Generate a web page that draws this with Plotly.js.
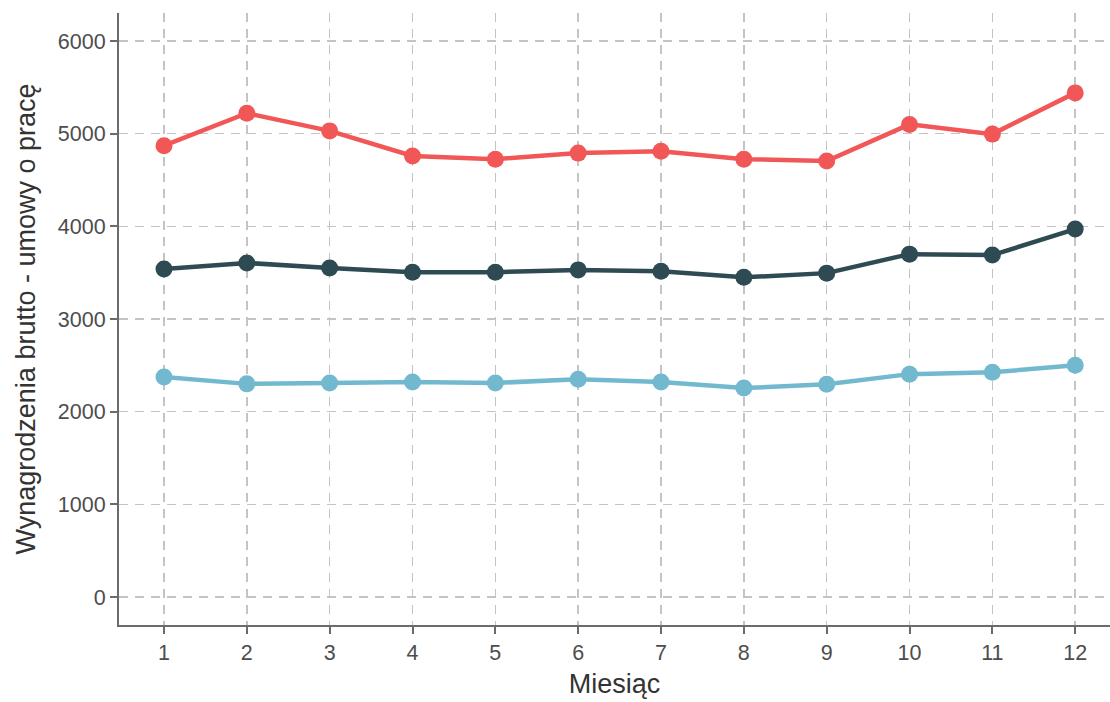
<!DOCTYPE html>
<html><head><meta charset="utf-8">
<script src="https://cdn.plot.ly/plotly-3.0.1.min.js"></script>
<style>body{margin:0;padding:0;background:#fff}#chart{width:1110px;height:702px}</style>
</head><body><div id="chart"></div>
<script>
const months = [1,2,3,4,5,6,7,8,9,10,11,12];
const seriesHigh = [4870, 5220, 5030, 4760, 4725, 4790, 4810, 4725, 4705, 5100, 4995, 5440];
const seriesMid  = [3540, 3605, 3550, 3505, 3505, 3530, 3515, 3450, 3495, 3700, 3690, 3970];
const seriesLow  = [2375, 2300, 2310, 2320, 2310, 2350, 2320, 2255, 2295, 2405, 2425, 2500];
const colors = ['#F25757', '#2E4A53', '#72B9CF'];

function tr(y, c){
  return {x: months, y: y, type:'scatter', mode:'lines+markers',
    line:{color:c, width:4.5}, marker:{color:c, size:17}, showlegend:false, hoverinfo:'x+y'};
}
const data = [tr(seriesLow, colors[2]), tr(seriesMid, colors[1]), tr(seriesHigh, colors[0])];

const axisCommon = {
  showline:true, linecolor:'#6b6b6b', linewidth:2,
  ticks:'outside', ticklen:7, tickwidth:2, tickcolor:'#6b6b6b',
  showgrid:true, gridcolor:'#c4c4c4', gridwidth:1.6, griddash:'9px,7px',
  zeroline:false, tickfont:{family:'Liberation Sans, Arial, sans-serif', size:21.5, color:'#4d4d4d'}
};
const layout = {
  width:1110, height:702,
  margin:{l:119, r:0, t:13, b:77},
  paper_bgcolor:'#fff', plot_bgcolor:'#fff',
  font:{family:'Liberation Sans, Arial, sans-serif'},
  xaxis: Object.assign({}, axisCommon, {
    range:[0.457, 12.42], tickvals: months, ticktext: months.map(String),
    title:{text:'Miesiąc', font:{size:27, color:'#333'}, standoff:10}
  }),
  yaxis: Object.assign({}, axisCommon, {
    range:[-302, 6302], tickvals:[0,1000,2000,3000,4000,5000,6000],
    title:{text:'Wynagrodzenia brutto - umowy o pracę', font:{size:27, color:'#333'}, standoff:14}
  })
};
Plotly.newPlot('chart', data, layout, {displayModeBar:false, staticPlot:true});
</script></body></html>
